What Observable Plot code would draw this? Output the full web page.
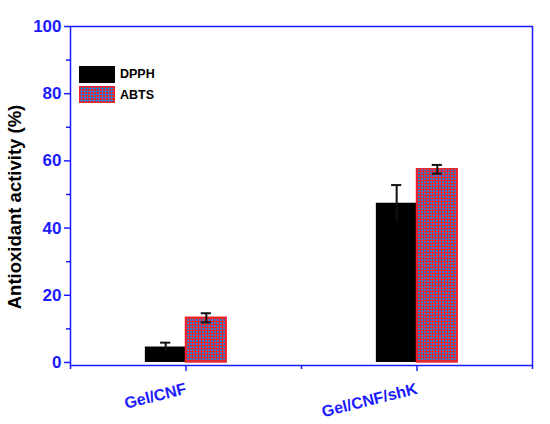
<!DOCTYPE html>
<html>
<head>
<meta charset="utf-8">
<script src="https://cdn.jsdelivr.net/npm/d3@7"></script>
<script src="https://cdn.jsdelivr.net/npm/@observablehq/plot@0.6"></script>
<style>
  html, body { margin: 0; padding: 0; background: #fff; }
  #wrap { position: relative; width: 550px; height: 424px; font-family: Arial, "Liberation Sans", sans-serif; }
  .legend { position: absolute; left: 79px; top: 64px; font-weight: bold; font-size: 12.5px; color: #000; }
  .legend .row { display: flex; align-items: center; height: 20.5px; }
  .legend .sw { width: 36px; height: 17px; margin-right: 5px; box-sizing: border-box; }
</style>
</head>
<body>
<div id="wrap"></div>
<script>
const categories = ["Gel/CNF", "Gel/CNF/shK"];
const series = ["DPPH", "ABTS"];
const dpph = [4.6, 47.4];
const dpphErr = [1.3, 5.4];
const abts = [13.3, 57.5];
const abtsErr = [1.35, 1.3];
const yTicks = [0, 20, 40, 60, 80, 100];
const yMinor = [10, 30, 50, 70, 90];

const BLUE = "#1a1aff";
const RED = "#ee2229";
const barW = 0.176;
const capW = 0.022;

const dpphRows = categories.map((c, i) => ({cat: c, pos: i + 1, v: dpph[i], e: dpphErr[i]}));
const abtsRows = categories.map((c, i) => ({cat: c, pos: i + 1, v: abts[i], e: abtsErr[i]}));

const chart = Plot.plot({
  width: 550,
  height: 424,
  marginLeft: 70,
  marginRight: 18,
  marginTop: 26,
  marginBottom: 59,
  style: {fontFamily: "Arial, 'Liberation Sans', sans-serif", background: "#fff"},
  x: {type: "linear", domain: [0.5, 2.5]},
  y: {domain: [-0.9, 100]},
  marks: [
    Plot.rect(dpphRows, {x1: d => d.pos - barW, x2: d => d.pos, y1: 0, y2: "v", fill: "#000", inset: 0}),
    Plot.rect(abtsRows, {x1: "pos", x2: d => d.pos + barW, y1: 0, y2: "v", fill: "url(#abtsPattern)", stroke: RED, strokeWidth: 1.5, inset: 0}),
    // error bars
    Plot.ruleX(dpphRows, {x: d => d.pos - barW / 2, y1: d => d.v - d.e, y2: d => d.v + d.e, stroke: "#111", strokeWidth: 2}),
    Plot.ruleY(dpphRows, {x1: d => d.pos - barW / 2 - capW, x2: d => d.pos - barW / 2 + capW, y: d => d.v + d.e, stroke: "#111", strokeWidth: 2}),
    Plot.ruleX(abtsRows, {x: d => d.pos + barW / 2, y1: d => d.v - d.e, y2: d => d.v + d.e, stroke: "#111", strokeWidth: 2}),
    Plot.ruleY(abtsRows, {x1: d => d.pos + barW / 2 - capW, x2: d => d.pos + barW / 2 + capW, y: d => d.v + d.e, stroke: "#111", strokeWidth: 2}),
    Plot.ruleY(abtsRows, {x1: d => d.pos + barW / 2 - capW, x2: d => d.pos + barW / 2 + capW, y: d => d.v - d.e, stroke: "#111", strokeWidth: 2}),
    // frame
    Plot.frame({stroke: BLUE, strokeWidth: 1.5}),
    // y axis
    Plot.axisY({ticks: yTicks, tickSize: 6, tickPadding: 3, stroke: BLUE, strokeWidth: 1.5, fill: BLUE, fontSize: 17, fontWeight: "bold", label: null}),
    Plot.axisY({ticks: yMinor, tickSize: 4, tickFormat: () => "", stroke: BLUE, strokeWidth: 1.5, label: null}),
    // x axis
    Plot.axisX({ticks: [1, 2], tickSize: 6, tickPadding: 17, tickRotate: -14, tickFormat: d => categories[d - 1], stroke: BLUE, strokeWidth: 1.5, fill: BLUE, fontSize: 16, fontWeight: "bold", label: null}),
    Plot.axisX({ticks: [0.5, 1.5, 2.5], tickSize: 4, tickFormat: () => "", stroke: BLUE, strokeWidth: 1.5, label: null}),
    Plot.text(["Antioxidant activity (%)"], {frameAnchor: "left", dx: -55, dy: 11, rotate: -90, textAnchor: "middle", fontSize: 18.5, fontWeight: "bold", fill: "#000"})
  ]
});

// pattern for ABTS bars
const ns = "http://www.w3.org/2000/svg";
const defs = document.createElementNS(ns, "defs");
defs.innerHTML = `<pattern id="abtsPattern" patternUnits="userSpaceOnUse" width="3" height="3">
  <rect width="3" height="3" fill="${RED}"/>
  <rect x="1" y="1" width="2" height="2" fill="#3a78c9"/>
</pattern>`;
chart.insertBefore(defs, chart.firstChild);

const wrap = document.getElementById("wrap");
wrap.appendChild(chart);

const legend = document.createElement("div");
legend.className = "legend";
legend.innerHTML = `
  <div class="row"><div class="sw" style="background:#000"></div><span>${series[0]}</span></div>
  <div class="row"><div class="sw" style="border:1.5px solid ${RED}; background-color:${RED}; background-image: radial-gradient(#3a78c9 60%, transparent 61%); background-size:3px 3px;"></div><span>${series[1]}</span></div>`;
wrap.appendChild(legend);
</script>
</body>
</html>
